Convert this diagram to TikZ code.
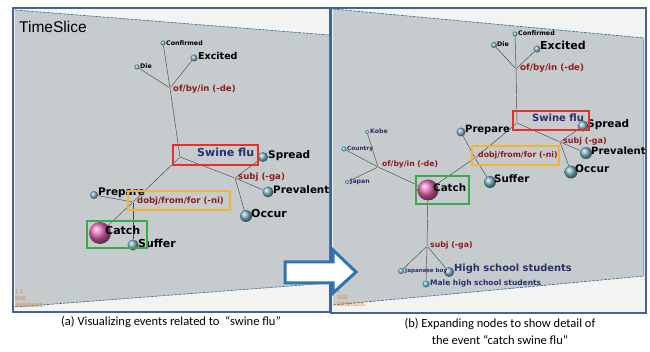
\documentclass[tikz,border=0pt]{standalone}
\usepackage{fontspec}
\setmainfont{Carlito}
\newfontfamily\lblfont{DejaVu Sans}
\newfontfamily\tsfont{Liberation Sans}
\definecolor{planegray}{HTML}{C6CBCE}
\definecolor{paperw}{HTML}{F3F3F1}
\definecolor{framebl}{HTML}{41659A}
\definecolor{sphb}{HTML}{7DB3C4}
\definecolor{sphc}{HTML}{62CADA}
\definecolor{catchpink}{HTML}{E463B2}
\definecolor{relred}{HTML}{8E1C1C}
\definecolor{navyc}{HTML}{2C2F6E}
\definecolor{boxred}{HTML}{E8302A}
\definecolor{boxorange}{HTML}{F2B431}
\definecolor{boxgreen}{HTML}{3BAA4A}
\definecolor{arrowbl}{HTML}{2F75B6}
\definecolor{datecol}{HTML}{D9822B}
\definecolor{edgec}{HTML}{3F4A4F}
\pgfdeclarelayer{bg}\pgfdeclarelayer{edges}
\pgfsetlayers{bg,edges,main}
\tikzset{
  sph/.style={circle, shading=ball, ball color=sphb, inner sep=0pt, minimum size=#1},
  sphcy/.style={circle, shading=ball, ball color=sphc, inner sep=0pt, minimum size=#1},
  sphpk/.style={circle, shading=ball, ball color=catchpink, inner sep=0pt, minimum size=#1},
  jn/.style={circle, fill=datecol, inner sep=0pt, minimum size=2pt},
  lbl/.style={anchor=west, inner sep=0pt, text height=0.75em, text depth=0.2em, text=black,
    font=\lblfont\bfseries\fontsize{#1}{#1}\selectfont},
  rel/.style={anchor=west, inner sep=0pt, text height=0.75em, text depth=0.2em, text=relred,
    font=\lblfont\bfseries\fontsize{#1}{#1}\selectfont},
  nav/.style={anchor=west, inner sep=0pt, text height=0.75em, text depth=0.2em, text=navyc,
    font=\lblfont\bfseries\fontsize{#1}{#1}\selectfont},
  ed/.style={draw=edgec, line width=0.45pt},
  hl/.style={draw=#1, line width=2pt},
  datet/.style={anchor=west, inner sep=0pt, text=datecol, font=\tsfont\fontsize{5.5}{6}\selectfont},
  panelframe/.style={draw=framebl, line width=1.6pt, fill=paperw},
  plane/.style={fill=planegray},
  planeedge/.style={draw=framebl!70!teal, line width=0.6pt, dash pattern=on 3pt off 1pt},
}
\begin{document}
\begin{tikzpicture}[x=1pt,y=-1pt]
\useasboundingbox (0,0) rectangle (650,352);
% ---------------- panels ----------------
\begin{pgfonlayer}{bg}
\fill[white] (0,0) rectangle (650,352);
\draw[panelframe] (13,8) rectangle (330,312);
\fill[plane] (15,10) -- (329,35) -- (329,283) -- (15,307) -- cycle;
\draw[planeedge] (15,10) -- (329,35);
\draw[planeedge] (15,307) -- (329,283);
\draw[panelframe] (331,8) rectangle (646,313);
\fill[plane] (333,9) -- (644,38) -- (644,276) -- (333,305) -- cycle;
\draw[planeedge] (333,9) -- (644,38);
\draw[planeedge] (333,305) -- (644,276);
\draw[framebl!60, line width=0.5pt] (643,38) -- (643,276);
\end{pgfonlayer}

\node[anchor=west, inner sep=0pt, font=\tsfont\fontsize{15.5}{16}\selectfont] (ts) at (19,27) {TimeSlice};

% ---------------- panel (a) ----------------
\node[sph=5] (aConf) at (163,43) {};
\node[sph=5] (aDie) at (137,67) {};
\node[sph=7] (aExc) at (194,58) {};
\node[sph=10] (aSpr) at (263,157) {};
\node[sph=11] (aPrev) at (268,192) {};
\node[sph=12] (aOcc) at (246,216) {};
\node[sph=8] (aPrep) at (94,195) {};
\node[sph=11] (aSuf) at (133,245) {};
\node[sphpk=22] (aCatch) at (100,233) {};
\node[jn] (aJde) at (170,88) {};
\node[jn] (aJsw) at (180,157) {};
\node[jn] (aJsubj) at (235,178) {};
\node[jn] (aJdobj) at (133,202) {};

\begin{pgfonlayer}{edges}
\draw[ed] (aConf) -- (aJde);
\draw[ed] (aDie) -- (aJde);
\draw[ed] (aExc) -- (aJde);
\draw[ed] (aJde) -- (aJsw);
\draw[ed] (aJsw) -- (aJsubj);
\draw[ed] (aSpr) -- (aJsubj);
\draw[ed] (aJsubj) -- (aPrev);
\draw[ed] (aJsubj) -- (aOcc);
\draw[ed] (aJsw) -- (aJdobj);
\draw[ed] (aPrep) -- (aJdobj);
\draw[ed] (aJdobj) -- (aCatch);
\draw[ed] (aJdobj) -- (aSuf);
\end{pgfonlayer}

\node[lbl=6.3] (aConfL) at (166,43) {Confirmed};
\node[lbl=6.3] (aDieL) at (140,66) {Die};
\node[lbl=9.5] (aExcL) at (198,57) {Excited};
\node[rel=8.5] (aDeL) at (173,89) {of/by/in (-de)};
\node[nav=11] (aSwL) at (197,154) {Swine flu};
\node[lbl=10.5] (aSprL) at (268,156) {Spread};
\node[rel=8.6] (aSubjL) at (238,177) {subj (-ga)};
\node[lbl=10.3] (aPrevL) at (273,191) {Prevalent};
\node[lbl=11] (aOccL) at (251,215) {Occur};
\node[lbl=10.5] (aPrepL) at (98,193) {Prepare};
\node[rel=8.5] (aDobjL) at (137,201) {dobj/from/for (-ni)};
\node[lbl=11] (aCatchL) at (105,232) {Catch};
\node[lbl=11] (aSufL) at (138,245) {Suffer};

\draw[hl=boxred] (173,145) rectangle (258,165);
\draw[hl=boxorange] (128,191) rectangle (230,210);
\draw[hl=boxgreen] (87,221) rectangle (147,248);

\node[datet] (aD1) at (15,292) {1 1};
\node[datet] (aD2) at (15,299) {9/02};
\node[datet] (aD3) at (15,306) {2009/05/05};

% ---------------- panel (b) ----------------
\node[sph=5] (bConf) at (515,34) {};
\node[sph=6] (bDie) at (494,45) {};
\node[sph=7] (bExc) at (537,49) {};
\node[sph=11] (bSpr) at (583,126) {};
\node[sph=12] (bPrev) at (586,153) {};
\node[sph=13] (bOcc) at (571,172) {};
\node[sph=9] (bPrep) at (461,132) {};
\node[sph=12] (bSuf) at (490,182) {};
\node[sphpk=21] (bCatch) at (428,190) {};
\node[sphcy=4] (bKobe) at (367,132) {};
\node[sphcy=5] (bCountry) at (344,149) {};
\node[sphcy=4] (bJapan) at (347,182) {};
\node[sphcy=6] (bJboy) at (401,271) {};
\node[sph=10] (bHigh) at (449,272) {};
\node[sphcy=7] (bMale) at (426,284) {};
\node[jn] (bJde) at (516,69) {};
\node[jn] (bJsw) at (517,123) {};
\node[jn] (bJsubj) at (560,142) {};
\node[jn] (bJdobj) at (475,158) {};
\node[jn] (bJde2) at (378,167) {};
\node[jn] (bJsubj2) at (427,246) {};

\begin{pgfonlayer}{edges}
\draw[ed] (bConf) -- (bJde);
\draw[ed] (bDie) -- (bJde);
\draw[ed] (bExc) -- (bJde);
\draw[ed] (bJde) -- (bJsw);
\draw[ed] (bJsw) -- (bJsubj);
\draw[ed] (bSpr) -- (bJsubj);
\draw[ed] (bJsubj) -- (bPrev);
\draw[ed] (bJsubj) -- (bOcc);
\draw[ed] (bJsw) -- (bJdobj);
\draw[ed] (bPrep) -- (bJdobj);
\draw[ed] (bJdobj) -- (bSuf);
\draw[ed] (bJdobj) -- (bCatch);
\draw[ed] (bKobe) -- (bJde2);
\draw[ed] (bCountry) -- (bJde2);
\draw[ed] (bJapan) -- (bJde2);
\draw[ed] (bJde2) -- (bCatch);
\draw[ed] (bCatch) -- (bJsubj2);
\draw[ed] (bJsubj2) -- (bJboy);
\draw[ed] (bJsubj2) -- (bHigh);
\draw[ed] (bJsubj2) -- (bMale);
\end{pgfonlayer}

\node[lbl=6.3] (bConfL) at (518,33) {Confirmed};
\node[lbl=6.3] (bDieL) at (497,44) {Die};
\node[lbl=11] (bExcL) at (540,47) {Excited};
\node[rel=8.7] (bDeL) at (520,68) {of/by/in (-de)};
\node[nav=10] (bSwL) at (532,119) {Swine flu};
\node[lbl=10.5] (bSprL) at (587,125) {Spread};
\node[rel=8] (bSubjL) at (563,141) {subj (-ga)};
\node[lbl=10] (bPrevL) at (591,152) {Prevalent};
\node[lbl=10.5] (bOccL) at (575,170) {Occur};
\node[lbl=10] (bPrepL) at (465,130) {Prepare};
\node[rel=7.8] (bDobjL) at (478,155) {dobj/from/for (-ni)};
\node[lbl=10.3] (bSufL) at (494,180) {Suffer};
\node[lbl=10.3] (bCatchL) at (433,189) {Catch};
\node[nav=6.2] (bKobeL) at (370,131) {Kobe};
\node[nav=5.8] (bCountryL) at (347,148) {Country};
\node[nav=6.2] (bJapanL) at (350,181) {Japan};
\node[rel=7.6] (bDe2L) at (382,164) {of/by/in (-de)};
\node[rel=7.8] (bSubj2L) at (430,245) {subj (-ga)};
\node[nav=5.6] (bJboyL) at (405,270) {Japanese boy};
\node[nav=9.9] (bHighL) at (454,269) {High school students};
\node[nav=7.5] (bMaleL) at (430,283) {Male high school students};

\draw[hl=boxred] (513,111) rectangle (589,130);
\draw[hl=boxorange] (472,146) rectangle (559,165);
\draw[hl=boxgreen] (416,176) rectangle (469,204);

\node[datet] (bD1) at (337,291) {1};
\node[datet] (bD2) at (337,298) {9/02};
\node[datet] (bD3) at (337,305) {2009/05/05};

% ---------------- arrow ----------------
\draw[arrowbl, line width=3pt, fill=white, line join=miter]
  (285,262) -- (333,262) -- (333,250) -- (356,272) -- (333,293) -- (333,283) -- (285,283) -- cycle;

% ---------------- captions ----------------
\node[font=\fontsize{12.5}{14}\selectfont] (capa) at (171,322) {(a) Visualizing events related to \ “swine flu”};
\node[font=\fontsize{12.5}{17}\selectfont, align=center] (capb) at (500,331) {(b) Expanding nodes to show detail of\\the event “catch swine flu”};
\end{tikzpicture}
\end{document}
